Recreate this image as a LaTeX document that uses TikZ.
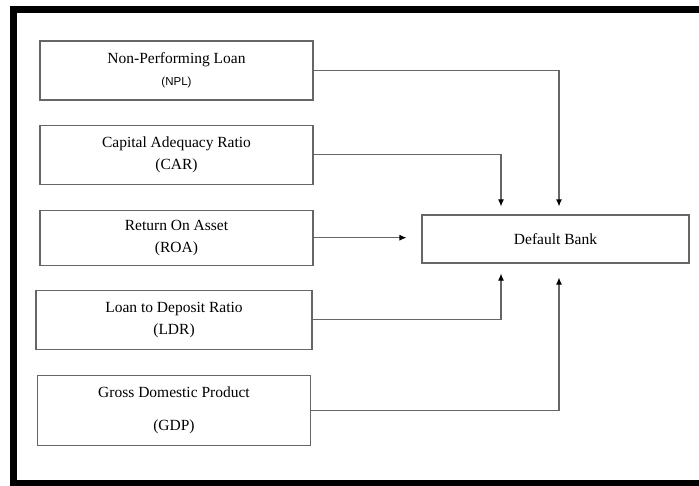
\documentclass[tikz,border=0pt]{standalone}
\usepackage{fontspec}
\setmainfont{Liberation Serif}
\newfontfamily\acrfont{Liberation Sans}
\usetikzlibrary{positioning}
\usetikzlibrary{arrows.meta}

\tikzset{
  factor/.style={draw=black!60, line width=1.1pt, minimum width=273pt, minimum height=59pt,
    align=center, inner sep=2pt, font=\fontsize{15.5}{22}\selectfont},
  link/.style={draw=black!60, line width=1.1pt, -{Latex[black,length=7pt,width=6pt]}},
}

\begin{document}
\begin{tikzpicture}[x=1pt,y=-1pt]
  \useasboundingbox (0,0) rectangle (699,485);
  \draw [line width=7pt] (13,9.5) rectangle (720,483.5);

  \node [factor] (npl) at (176.5,70.5) {Non-Performing Loan\\{\acrfont\fontsize{11.5}{14}\selectfont (NPL)}};
  \node [factor, below=24pt of npl] (car) {Capital Adequacy Ratio\\(CAR)};
  \node [factor, below=25pt of car, minimum height=55pt] (roa) {Return On Asset\\(ROA)};
  \node [factor, below=24pt of roa, minimum width=276pt, xshift=-2.5pt] (ldr) {Loan to Deposit Ratio\\(LDR)};
  \node [factor, below=25pt of ldr, minimum height=70pt] (gdp) {Gross Domestic Product\\[11pt](GDP)};
  \node [factor, minimum width=267pt, minimum height=48pt] (bank) at (555.5,239) {Default Bank};

  \draw [link, shorten >=8pt] (npl.east) -| ([xshift=3.5pt]bank.north);
  \draw [link, shorten >=8pt] (car.east) -| ([xshift=-54.5pt]bank.north);
  \draw [link, shorten >=15pt] (roa.east) -- (roa.east -| bank.west);
  \draw [link, shorten >=10pt] (ldr.east) -| ([xshift=-54.5pt]bank.south);
  \draw [link, shorten >=14pt] (gdp.east) -| ([xshift=3.5pt]bank.south);

\end{tikzpicture}
\end{document}
